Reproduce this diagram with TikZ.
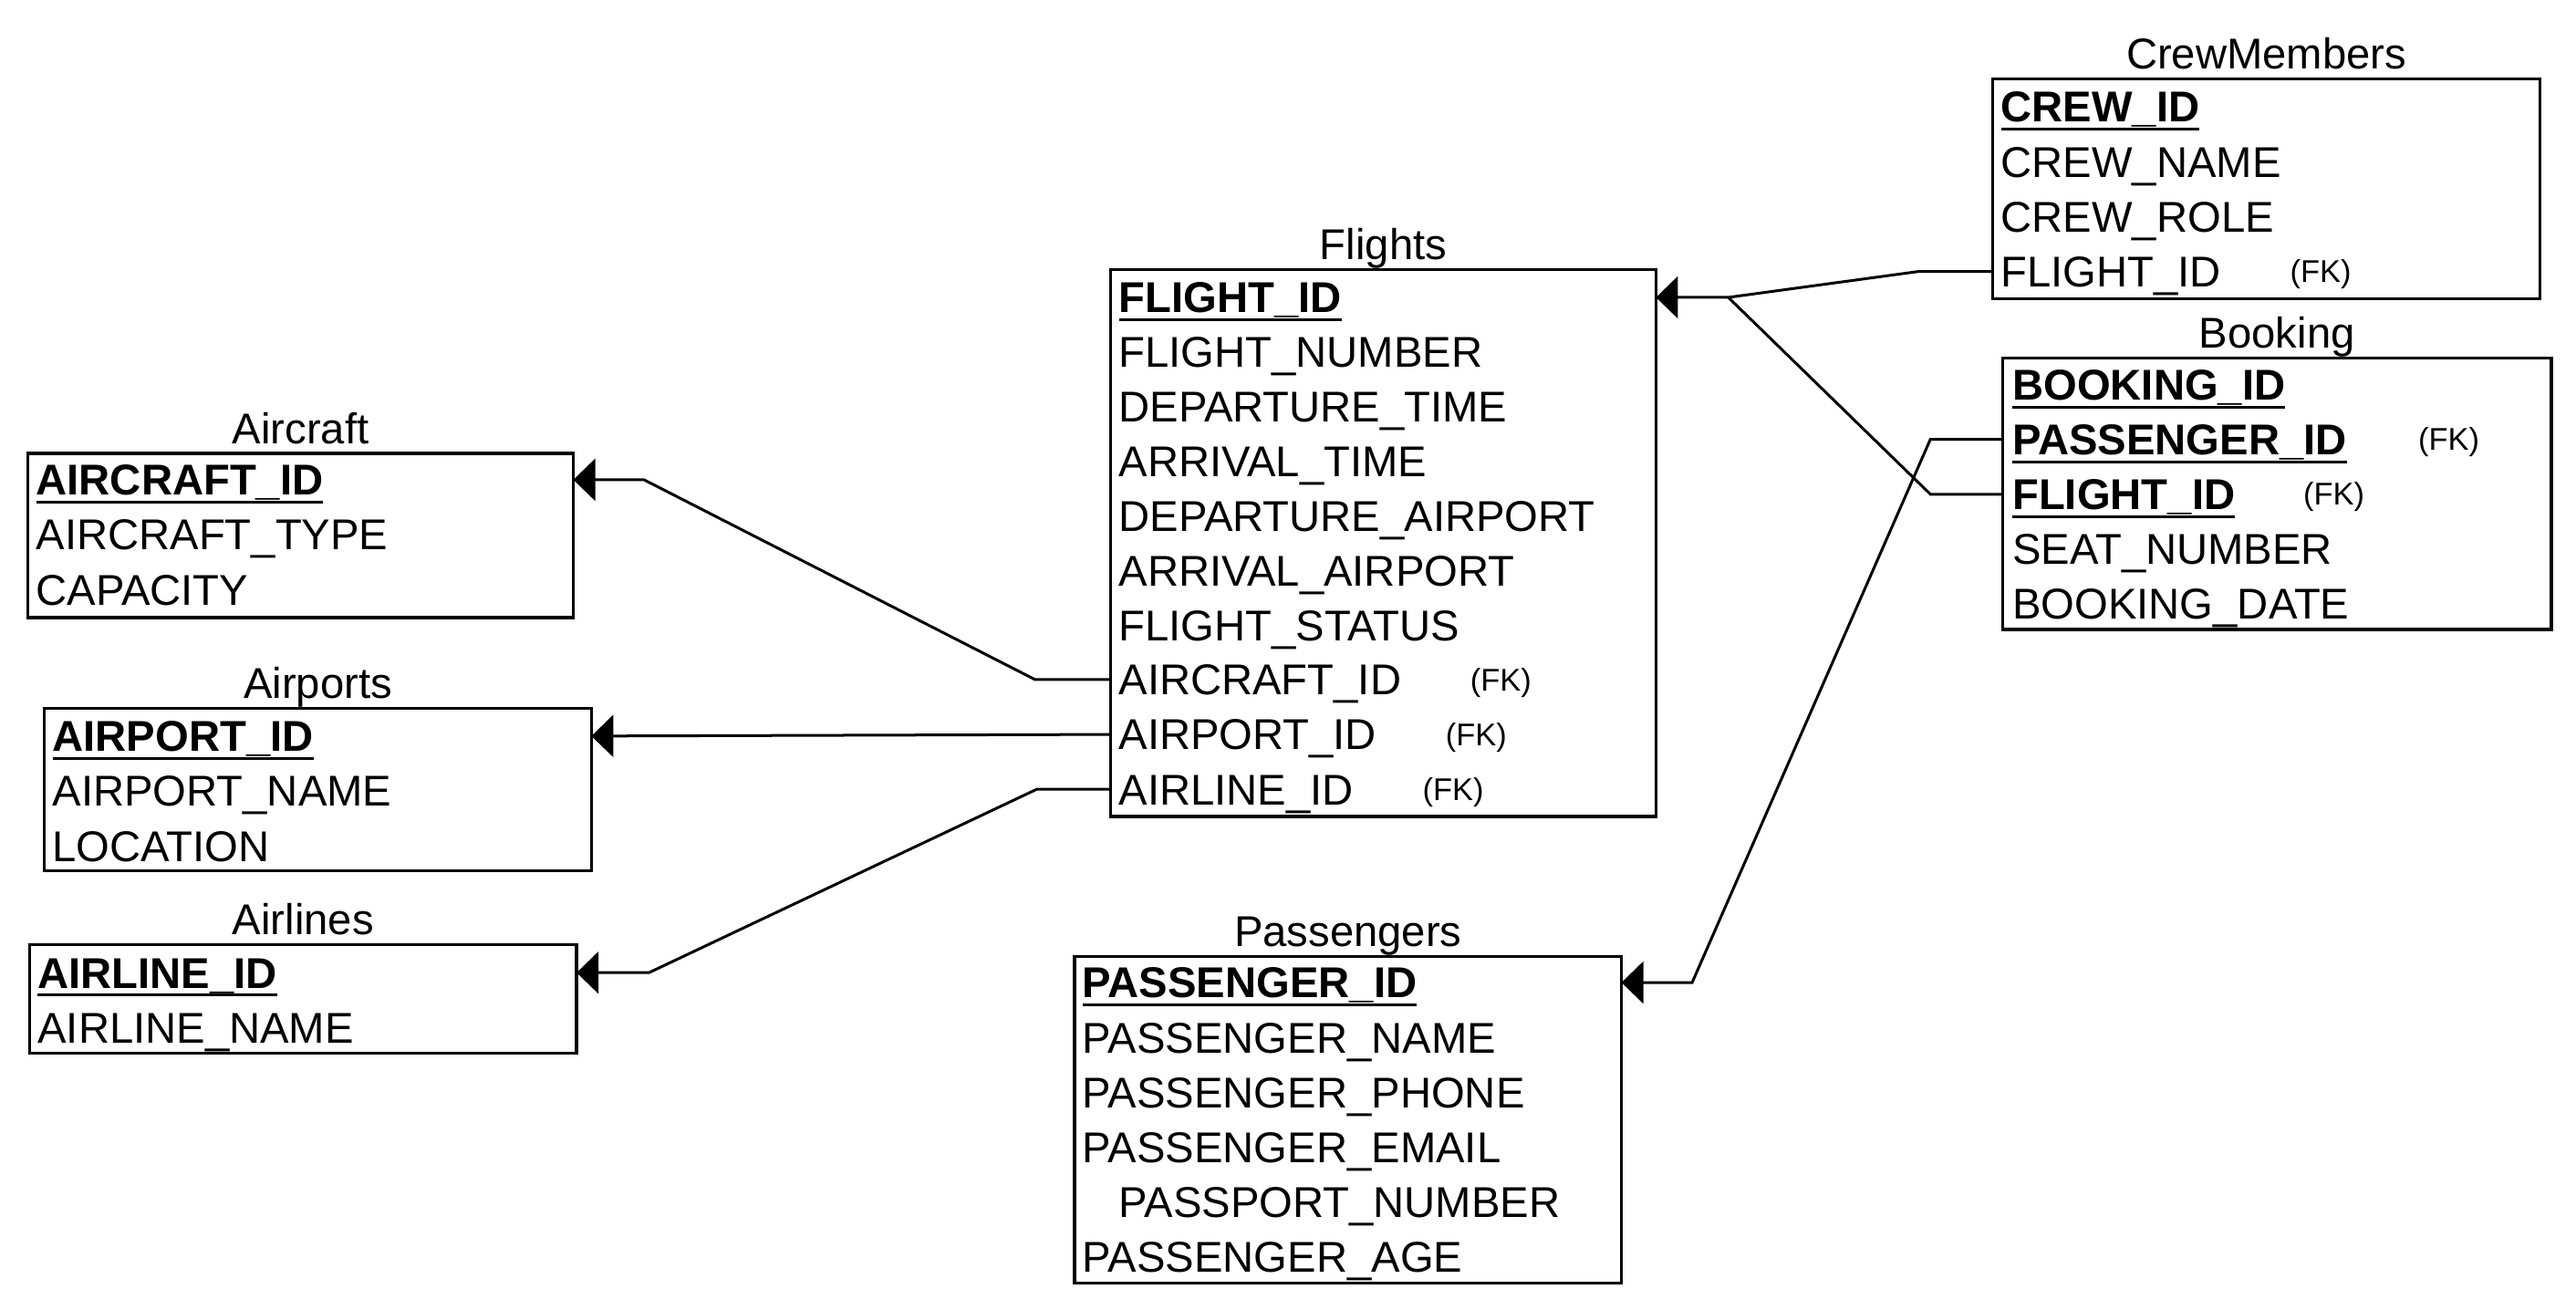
\documentclass[tikz,border=0pt]{standalone}
\usepackage{fontspec}
\setmainfont{Liberation Sans}
\usetikzlibrary{arrows.meta,fit}
\newsavebox\pkeybox
\newcommand\pkey[1]{\sbox\pkeybox{\textbf{#1}}\rlap{\rule[-2.3pt]{\wd\pkeybox}{0.75pt}}\usebox\pkeybox}
\begin{document}
\begin{tikzpicture}[x=0.45pt,y=-0.45pt,
  tbl/.style={draw, line width=0.85pt, inner sep=0pt, outer sep=0pt},
  fld/.style={anchor=west, inner sep=0pt, outer sep=0pt, text height=8.45pt, text depth=0pt, font=\fontsize{11.8}{14}\selectfont},
  ttl/.style={anchor=base, inner sep=0pt, font=\fontsize{11.8}{14}\selectfont},
  fk/.style={anchor=west, inner sep=0pt, outer sep=0pt, text height=6.1pt, text depth=0pt, font=\fontsize{8.6}{10}\selectfont},
  rel/.style={line width=0.75pt, -{Triangle[length=6pt,width=11.5pt]}},
  lnk/.style={line width=0.75pt},
]
\useasboundingbox (0,0) rectangle (1568,797);

% ---------- Aircraft ----------
\node[tbl, fit={(17,276) (349,376)}] (aircraft) {};
\node[ttl] (taircraft) at ([yshift=2.7pt]aircraft.north) {Aircraft};
\node[fld] (a1) at (22,292) {\pkey{AIRCRAFT\_ID}};
\node[fld] (a2) at (22,325.4) {AIRCRAFT\_TYPE};
\node[fld] (a3) at (22,358.8) {CAPACITY};

% ---------- Airports ----------
\node[tbl, fit={(27,431) (360,530)}] (airports) {};
\node[ttl] (tairports) at ([yshift=2.7pt]airports.north) {Airports};
\node[fld] (p1) at (32,448) {\pkey{AIRPORT\_ID}};
\node[fld] (p2) at (32,481.4) {AIRPORT\_NAME};
\node[fld] (p3) at (32,514.8) {LOCATION};

% ---------- Airlines ----------
\node[tbl, fit={(18,575) (351,641)}] (airlines) {};
\node[ttl] (tairlines) at ([yshift=2.7pt]airlines.north) {Airlines};
\node[fld] (l1) at (23,592) {\pkey{AIRLINE\_ID}};
\node[fld] (l2) at (23,625.4) {AIRLINE\_NAME};

% ---------- Flights ----------
\node[tbl, fit={(676,164) (1008,497)}] (flights) {};
\node[ttl] (tflights) at ([yshift=2.7pt]flights.north) {Flights};
\node[fld] (f1) at (681,181) {\pkey{FLIGHT\_ID}};
\node[fld] (f2) at (681,214.3) {FLIGHT\_NUMBER};
\node[fld] (f3) at (681,247.6) {DEPARTURE\_TIME};
\node[fld] (f4) at (681,280.9) {ARRIVAL\_TIME};
\node[fld] (f5) at (681,314.2) {DEPARTURE\_AIRPORT};
\node[fld] (f6) at (681,347.5) {ARRIVAL\_AIRPORT};
\node[fld] (f7) at (681,380.8) {FLIGHT\_STATUS};
\node[fld] (f8) at (681,413.6) {AIRCRAFT\_ID};
\node[fld] (f9) at (681,447) {AIRPORT\_ID};
\node[fld] (f10) at (681,480.4) {AIRLINE\_ID};
\node[fk] (fk8) at (895,413.6) {(FK)};
\node[fk] (fk9) at (880,447) {(FK)};
\node[fk] (fk10) at (866,480.4) {(FK)};

% ---------- CrewMembers ----------
\node[tbl, fit={(1213,48) (1546,182)}] (crew) {};
\node[ttl] (tcrew) at ([yshift=2.7pt]crew.north) {CrewMembers};
\node[fld] (c1) at (1218,65) {\pkey{CREW\_ID}};
\node[fld] (c2) at (1218,98.4) {CREW\_NAME};
\node[fld] (c3) at (1218,131.8) {CREW\_ROLE};
\node[fld] (c4) at (1218,165.2) {FLIGHT\_ID};
\node[fk] (fkc4) at (1394,165.2) {(FK)};

% ---------- Booking ----------
\node[tbl, fit={(1219,218) (1553,383)}] (booking) {};
\node[ttl] (tbooking) at ([yshift=2.7pt]booking.north) {Booking};
\node[fld] (b1) at (1225,234) {\pkey{BOOKING\_ID}};
\node[fld] (b2) at (1225,267.4) {\pkey{PASSENGER\_ID}};
\node[fld] (b3) at (1225,300.8) {\pkey{FLIGHT\_ID}};
\node[fld] (b4) at (1225,334.2) {SEAT\_NUMBER};
\node[fld] (b5) at (1225,367.6) {BOOKING\_DATE};
\node[fk] (fkb2) at (1472,267.4) {(FK)};
\node[fk] (fkb3) at (1402,300.8) {(FK)};

% ---------- Passengers ----------
\node[tbl, fit={(654,582) (987,781)}] (passengers) {};
\node[ttl] (tpassengers) at ([yshift=2.7pt]passengers.north) {Passengers};
\node[fld] (s1) at (659,598) {\pkey{PASSENGER\_ID}};
\node[fld] (s2) at (659,631.4) {PASSENGER\_NAME};
\node[fld] (s3) at (659,664.8) {PASSENGER\_PHONE};
\node[fld] (s4) at (659,698.2) {PASSENGER\_EMAIL};
\node[fld] (s5) at (681,731.6) {PASSPORT\_NUMBER};
\node[fld] (s6) at (659,765) {PASSENGER\_AGE};

% ---------- bend points ----------
\coordinate (k1) at (630,413.6);
\coordinate (k2) at (392,292);
\coordinate (k3) at (631,480.4);
\coordinate (k4) at (395,592);
\coordinate (k5) at (1168,165.2);
\coordinate (jn) at (1052,181);
\coordinate (k6) at (1175,300.8);
\coordinate (k7) at (1175,267.4);
\coordinate (k8) at (1030,598);

% ---------- connectors ----------
\draw[rel] (flights.west |- f8.west) -- (k1) -- (k2) -- (aircraft.east |- a1.west);
\draw[rel] (flights.west |- f9.west) -- (airports.east |- p1.west);
\draw[rel] (flights.west |- f10.west) -- (k3) -- (k4) -- (airlines.east |- l1.west);
\draw[rel] (crew.west |- c4.west) -- (k5) -- (jn) -- (flights.east |- f1.west);
\draw[lnk] (booking.west |- b3.west) -- (k6) -- (jn);
\draw[rel] (booking.west |- b2.west) -- (k7) -- (k8) -- (passengers.east |- s1.west);
\end{tikzpicture}
\end{document}
